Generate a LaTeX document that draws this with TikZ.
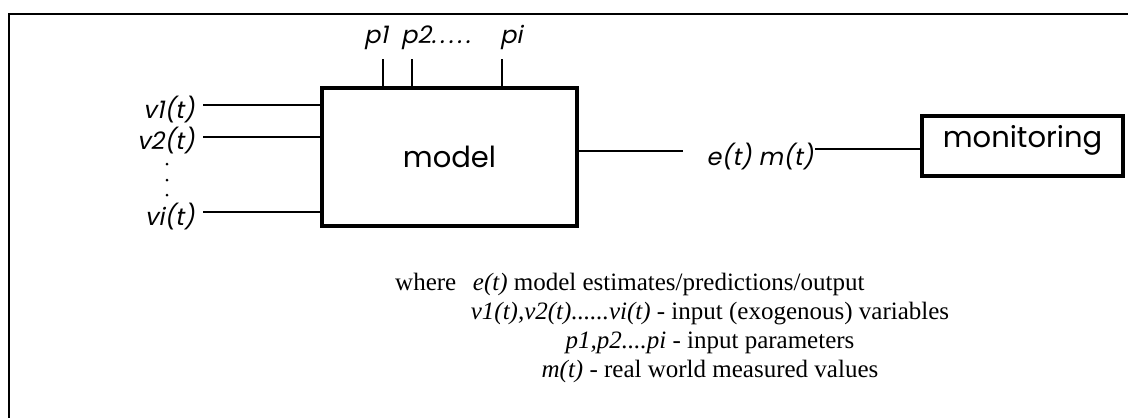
\documentclass[tikz,border=0pt]{standalone}
\usepackage{fontspec}
\setmainfont{Liberation Serif}
\newfontfamily\gothic{Poppins}
\newfontfamily\gothicsl[FakeSlant=0.2]{Poppins}
\newcommand{\wdot}{.\hspace{3.5pt}}
\begin{document}
\begin{tikzpicture}[x=1pt,y=-1pt,
  framestyle/.style={line width=2.4pt},
  boxstyle/.style={draw, line width=3.4pt, inner sep=0pt},
  wire/.style={line width=2.6pt},
  outwire/.style={line width=2.1pt},
  thinwire/.style={line width=1.6pt},
  lab/.style={font=\gothicsl\fontsize{24}{24}\selectfont, inner sep=0pt},
  note/.style={font=\fontsize{25}{29}\selectfont, inner sep=0pt}]
\useasboundingbox (0,0) rectangle (1128,418);
\fill[white] (0,0) rectangle (1128,418);
% frame
\draw[framestyle] (1128,14) -- (9,14) -- (9,418);
% boxes
\node[boxstyle, minimum width=255pt, minimum height=138pt,
      font=\gothic\fontsize{29}{29}\selectfont] (model) at (449.5,157) {model};
\node[boxstyle, line width=3.6pt, minimum width=201pt, minimum height=60pt,
      text height=22pt, text depth=20pt,
      font=\gothic\fontsize{29}{29}\selectfont] (mon) at (1022.5,146) {monitoring};
% inputs
\coordinate (v1s) at (203,105);
\coordinate (v2s) at (203,137);
\coordinate (vis) at (203,212);
\draw[wire] (v1s) -- (v1s -| model.west);
\draw[wire] (v2s) -- (v2s -| model.west);
\draw[wire] (vis) -- (vis -| model.west);
\node[lab, anchor=east] (v1) at (195,110) {v1(t)};
\node[lab, anchor=east] (v2) at (195,141) {v2(t)};
\node[lab, anchor=east] (vi) at (195,217) {vi(t)};
\fill (167,164) circle (1.5pt);
\fill (167,180) circle (1.5pt);
\fill (167,195) circle (1.5pt);
% parameters
\coordinate (p1s) at (383,59);
\coordinate (p2s) at (412,59);
\coordinate (pis) at (502,59);
\draw[thinwire] (p1s) -- (p1s |- model.north);
\draw[thinwire] (p2s) -- (p2s |- model.north);
\draw[thinwire] (pis) -- (pis |- model.north);
\node[lab, anchor=base west] (p1) at (364,43) {p1};
\node[lab, anchor=base west] (p2) at (401,43) {p2\wdot\wdot\wdot\wdot.};
\node[lab, anchor=base west] (pi) at (500,43) {pi};
% output
\coordinate (o1) at (683,151);
\draw[outwire] (model.east |- o1) -- (o1);
\node[lab] (em) at (760,157) {e(t) m(t)};
\coordinate (o2) at (815,149);
\draw[outwire] (o2) -- (o2 -| mon.west);
% legend
\node[note, anchor=base west] (w1) at (395,290) {where\ \ \,\textit{e(t)} model estimates/predictions/output};
\node[note, anchor=base] (w2) at (710,319) {\textit{v1(t),v2(t)......vi(t)} - input (exogenous) variables};
\node[note, anchor=base] (w3) at (710,348) {\textit{p1,p2....pi} - input parameters};
\node[note, anchor=base] (w4) at (710,377) {\textit{m(t)} - real world measured values};
\end{tikzpicture}
\end{document}
